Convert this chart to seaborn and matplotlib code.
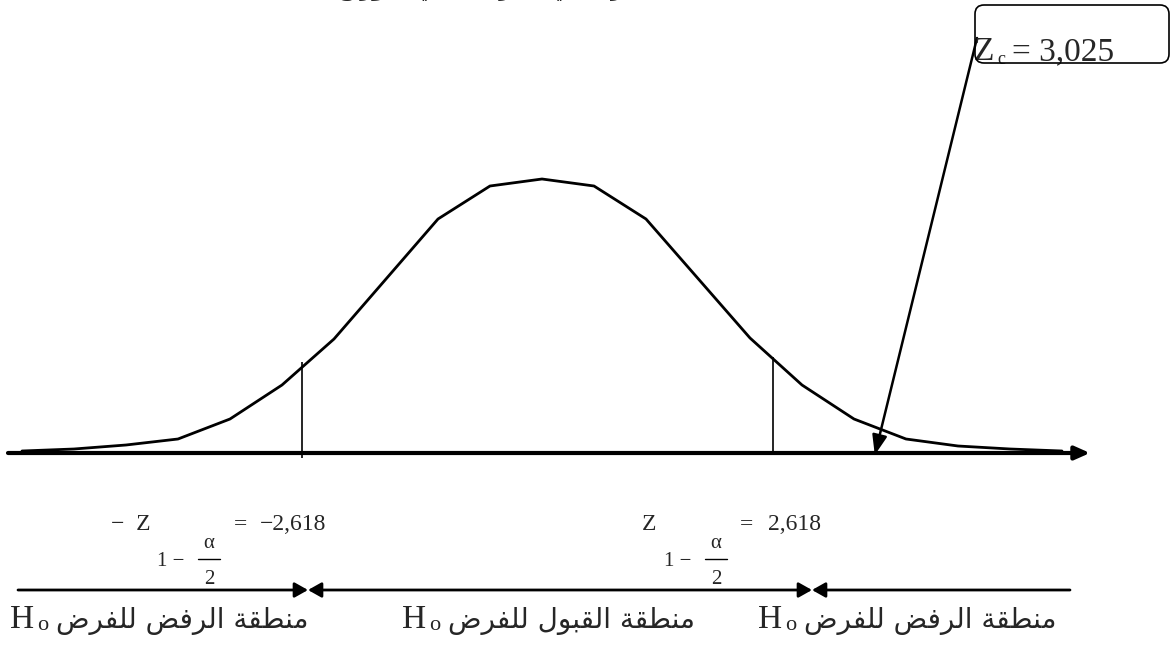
import numpy as np
import pandas as pd
import matplotlib.pyplot as plt
import seaborn as sns
from matplotlib.patches import FancyBboxPatch
from matplotlib.transforms import IdentityTransform

# normal curve drawn as a polyline (position index, height)
curve_pos = [-10, -9, -8, -7, -6, -5, -4, -2, -1, 0, 1, 2, 4, 5, 6, 7, 8, 9, 10]
curve_h = [2, 4, 8, 14, 34, 68, 114, 234, 267, 274, 267, 234, 115, 68, 34, 14, 7, 4, 2]

# critical values
crit_pos = [-4.62, 4.44]
crit_h = [91, 96]
crit_labels = ["−2,618", "2,618"]
z_labels = ["−  Z", "Z"]

# computed statistic
zc_pos = 6.4
zc_label = "= 3,025"

regions = ["منطقة الرفض للفرض", "منطقة القبول للفرض", "منطقة الرفض للفرض"]
title = "اختبار بياني للفرضية في التوزيع"

# --- simple arabic shaping (matplotlib has no text shaping) ---
FORMS = {
    'ا': (0xFE8D, 0xFE8E), 'ب': (0xFE8F, 0xFE90, 0xFE91, 0xFE92),
    'ة': (0xFE93, 0xFE94), 'ت': (0xFE95, 0xFE96, 0xFE97, 0xFE98),
    'ج': (0xFE9D, 0xFE9E, 0xFE9F, 0xFEA0), 'ح': (0xFEA1, 0xFEA2, 0xFEA3, 0xFEA4),
    'خ': (0xFEA5, 0xFEA6, 0xFEA7, 0xFEA8), 'د': (0xFEA9, 0xFEAA),
    'ر': (0xFEAD, 0xFEAE), 'ز': (0xFEAF, 0xFEB0),
    'س': (0xFEB1, 0xFEB2, 0xFEB3, 0xFEB4), 'ص': (0xFEB9, 0xFEBA, 0xFEBB, 0xFEBC),
    'ض': (0xFEBD, 0xFEBE, 0xFEBF, 0xFEC0), 'ط': (0xFEC1, 0xFEC2, 0xFEC3, 0xFEC4),
    'ع': (0xFEC9, 0xFECA, 0xFECB, 0xFECC), 'ف': (0xFED1, 0xFED2, 0xFED3, 0xFED4),
    'ق': (0xFED5, 0xFED6, 0xFED7, 0xFED8), 'ك': (0xFED9, 0xFEDA, 0xFEDB, 0xFEDC),
    'ل': (0xFEDD, 0xFEDE, 0xFEDF, 0xFEE0), 'م': (0xFEE1, 0xFEE2, 0xFEE3, 0xFEE4),
    'ن': (0xFEE5, 0xFEE6, 0xFEE7, 0xFEE8), 'ه': (0xFEE9, 0xFEEA, 0xFEEB, 0xFEEC),
    'و': (0xFEED, 0xFEEE), 'ي': (0xFEF1, 0xFEF2, 0xFEF3, 0xFEF4),
}


def shape(s):
    out = []
    i = 0
    while i < len(s):
        ch = s[i]
        prev = s[i - 1] if i > 0 else ''
        join_prev = prev in FORMS and len(FORMS[prev]) == 4
        if ch == 'ل' and i + 1 < len(s) and s[i + 1] == 'ا':
            out.append(chr(0xFEFC if join_prev else 0xFEFB))
            i += 2
            continue
        if ch not in FORMS:
            out.append(ch)
            i += 1
            continue
        f = FORMS[ch]
        nxt = s[i + 1] if i + 1 < len(s) else ''
        join_next = len(f) == 4 and nxt in FORMS
        if join_prev and join_next:
            c = f[3]
        elif join_prev:
            c = f[1]
        elif join_next:
            c = f[2]
        else:
            c = f[0]
        out.append(chr(c))
        i += 1
    return ''.join(reversed(out))


sns.set_style("white")
serif = ['Liberation Serif', 'DejaVu Serif']
arab = ['DejaVu Sans']

fig = plt.figure(figsize=(11.71, 6.5), dpi=100)
ax = fig.add_axes([0, 0, 1, 1])
ax.set_xlim(-542 / 52, (1171 - 542) / 52)
ax.set_ylim(453 - 650, 453)
ax.set_axis_off()


def px(x):
    return (x - 542) / 52


def py(y):
    return 453 - y


# horizontal axis with arrow
ax.annotate('', xy=(px(1090), 0), xytext=(px(8), 0),
            arrowprops=dict(arrowstyle='-|>,head_length=0.9,head_width=0.4',
                            lw=3, color='black', shrinkA=0, shrinkB=0))

sns.lineplot(x=curve_pos, y=curve_h, sort=False, color='black', lw=2, ax=ax)

ax.vlines(crit_pos, [-5, 0], crit_h, color='black', lw=1.2)

# Zc box and arrow
box = FancyBboxPatch((975, 650 - 63), 194, 58, boxstyle='round,pad=0,rounding_size=9',
                     transform=IdentityTransform(), fc='none', ec='black', lw=1.2)
fig.add_artist(box)
ax.annotate('', xy=(zc_pos, -2), xytext=(px(977), py(38)),
            arrowprops=dict(arrowstyle='-|>,head_length=1.2,head_width=0.45',
                            lw=1.8, color='black', shrinkA=0, shrinkB=0))
ax.text(px(973), py(60), "Z", family=serif, fontsize=24, va='baseline')
ax.text(px(997), py(64), "c", family=serif, fontsize=13, va='baseline')
ax.text(px(1012), py(60), zc_label, family=serif, fontsize=24, va='baseline')

# title (cut off at top edge, as in the source)
fig.text(0.43, 1 + 4 / 650, shape(title), family=arab, fontsize=15, fontweight='bold',
         ha='center', va='baseline')

# critical value labels
z_x = [111, 642]
eq_x = [234, 740]
val_x = [260, 768]
one_x = [157, 664]
frac_x = [209, 716]
for i in range(2):
    ax.text(px(z_x[i]), py(525), z_labels[i], family=serif, fontsize=17, va='center')
    ax.text(px(eq_x[i]), py(525), "=", family=serif, fontsize=17, va='center')
    ax.text(px(val_x[i]), py(525), crit_labels[i], family=serif, fontsize=17, va='center')
    ax.text(px(one_x[i]), py(561), "1 −", family=serif, fontsize=15, va='center')
    ax.text(px(frac_x[i]), py(544), "α", family=serif, fontsize=15, va='center', ha='center')
    ax.plot([px(frac_x[i] - 11), px(frac_x[i] + 11)], [py(559), py(559)], color='black', lw=1)
    ax.text(px(frac_x[i]), py(579), "2", family=serif, fontsize=15, va='center', ha='center')

# region arrows
ay = py(590)
head = 'head_length=0.8,head_width=0.45'
ax.annotate('', xy=(px(308), ay), xytext=(px(18), ay),
            arrowprops=dict(arrowstyle='-|>,' + head, lw=2, color='black', shrinkA=0, shrinkB=0))
ax.annotate('', xy=(px(812), ay), xytext=(px(308), ay),
            arrowprops=dict(arrowstyle='<|-|>,' + head, lw=2, color='black', shrinkA=0, shrinkB=0))
ax.annotate('', xy=(px(1070), ay), xytext=(px(812), ay),
            arrowprops=dict(arrowstyle='<|-,' + head, lw=2, color='black', shrinkA=0, shrinkB=0))

# region labels
h_x = [10, 402, 758]
for i in range(3):
    ax.text(px(h_x[i]), py(628), "H", family=serif, fontsize=24, va='baseline')
    ax.text(px(h_x[i] + 27), py(630), "o", family=serif, fontsize=16, va='baseline')
    ax.text(px(h_x[i] + 46), py(628), shape(regions[i]), family=arab, fontsize=20, va='baseline')

fig.savefig("out.png", dpi=100)
